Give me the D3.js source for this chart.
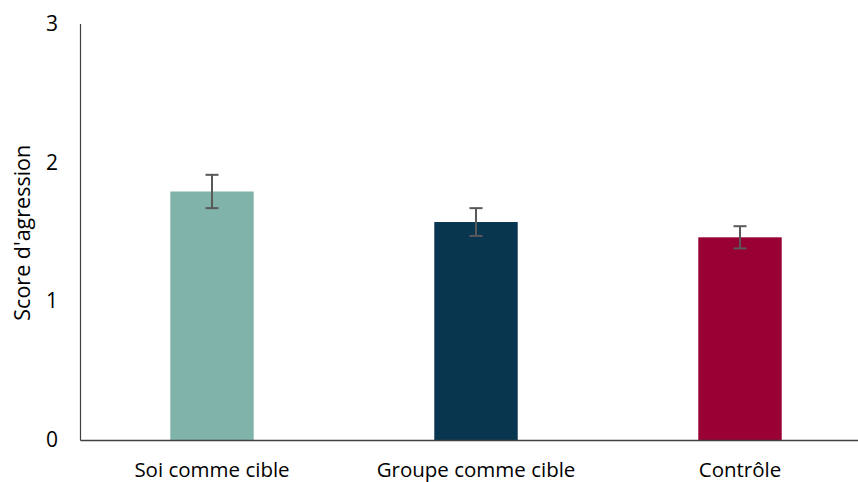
<!DOCTYPE html>
<html>
<head>
<meta charset="utf-8">
<script src="https://cdn.jsdelivr.net/npm/d3@7"></script>
<style>
  body { margin: 0; background: #fff; }
  svg text { font-family: "Open Sans", "Liberation Sans", sans-serif; fill: #000; }
</style>
</head>
<body>
<svg id="chart" width="858" height="482"></svg>
<script>
const categories = ["Soi comme cible", "Groupe comme cible", "Contrôle"];
const means = [1.79, 1.57, 1.46];
const errors = [0.12, 0.10, 0.08];
const colors = ["#80B3AA", "#08364F", "#990033"];
const yTicks = [0, 1, 2, 3];
const yLabel = "Score d'agression";

(function () {
const svg = d3.select("#chart");
const mLeft = 80, mBottom = 440, mTop = 23.5, mRight = 872;

const x = d3.scaleBand().domain(categories).range([mLeft, mRight])
  .paddingInner(0.684).paddingOuter(0.342);
const y = d3.scaleLinear().domain([0, 3]).range([mBottom, mTop]);

// bars
svg.selectAll("rect.bar").data(categories).join("rect")
  .attr("class", "bar")
  .attr("x", d => x(d))
  .attr("width", x.bandwidth())
  .attr("y", (d, i) => y(means[i]))
  .attr("height", (d, i) => y(0) - y(means[i]))
  .attr("fill", (d, i) => colors[i]);

// error bars
const eg = svg.append("g").attr("stroke", "#595959").attr("stroke-width", 2);
categories.forEach((c, i) => {
  const cx = x(c) + x.bandwidth() / 2;
  const hi = y(means[i] + errors[i]), lo = y(means[i] - errors[i]);
  eg.append("line").attr("x1", cx).attr("x2", cx).attr("y1", hi).attr("y2", lo);
  eg.append("line").attr("x1", cx - 6.5).attr("x2", cx + 6.5).attr("y1", hi).attr("y2", hi);
  eg.append("line").attr("x1", cx - 6.5).attr("x2", cx + 6.5).attr("y1", lo).attr("y2", lo);
});

// y axis
const yAxis = svg.append("g").attr("transform", `translate(${mLeft},0)`)
  .call(d3.axisLeft(y).tickValues(yTicks).tickFormat(d3.format("d")).tickSize(0).tickPadding(22));
yAxis.select(".domain").attr("stroke", "#404040").attr("stroke-width", 1.2);
yAxis.selectAll("text").attr("font-size", 21).attr("font-family", "Open Sans");

// x axis
const xAxis = svg.append("g").attr("transform", `translate(0,${mBottom})`)
  .call(d3.axisBottom(x).tickSize(0).tickPadding(22));
xAxis.select(".domain").attr("stroke", "#404040").attr("stroke-width", 1.5);
xAxis.selectAll("text").attr("font-size", 20.5).attr("font-family", "Open Sans");

// y label
svg.append("text")
  .attr("transform", `translate(30,${(mTop + mBottom) / 2 + 1}) rotate(-90)`)
  .attr("text-anchor", "middle")
  .attr("font-size", 21.5)
  .text(yLabel);
})();
</script>
</body>
</html>
